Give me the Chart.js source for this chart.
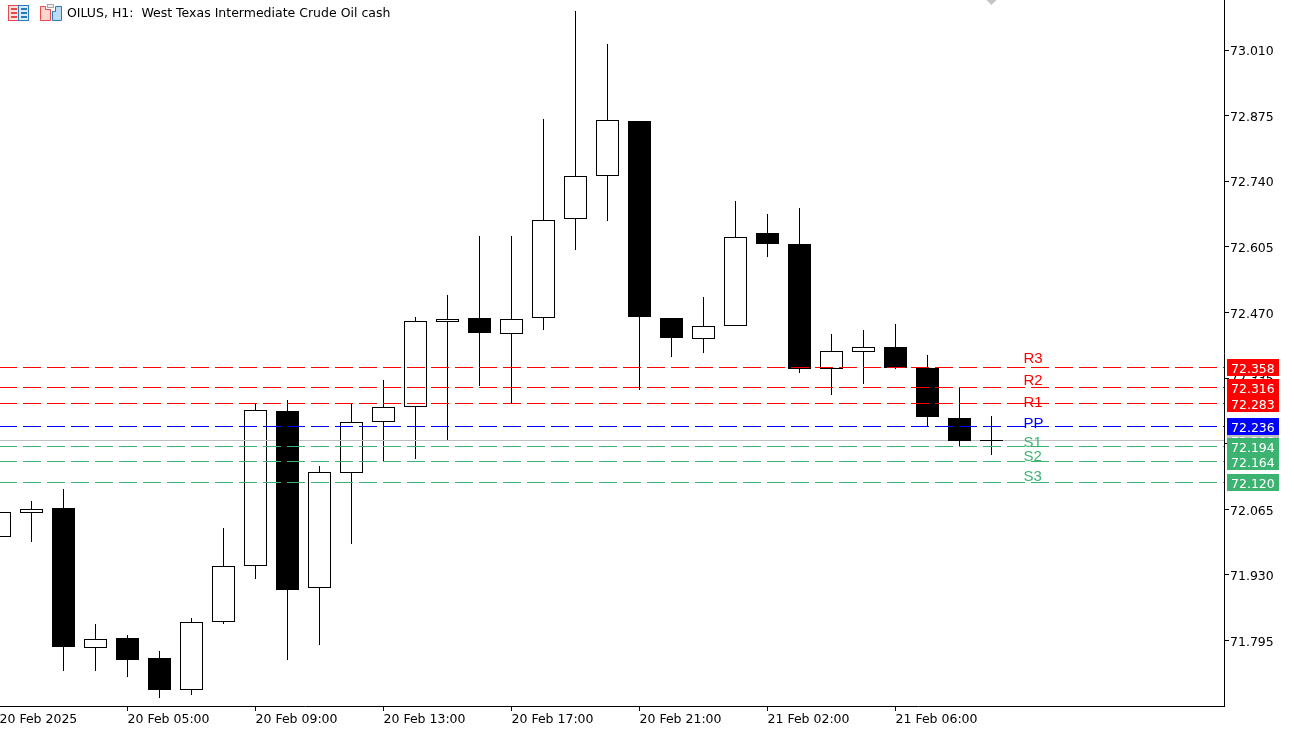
<!DOCTYPE html>
<html><head><meta charset="utf-8">
<style>html,body{margin:0;padding:0;background:#fff;overflow:hidden}
#wrap{position:absolute;left:-1px;top:0;width:1295px;height:733px}</style>
<script src="https://cdn.jsdelivr.net/npm/chart.js@4"></script>
</head><body><div id="wrap"><canvas id="c"></canvas></div>
<script>
const titleText = 'OILUS, H1:  West Texas Intermediate Crude Oil cash';
const opens  = [72.008,72.057,72.067,71.780,71.800,71.759,71.694,71.833,71.948,72.267,71.903,72.140,72.245,72.275,72.450,72.459,72.426,72.459,72.662,72.751,72.863,72.459,72.415,72.442,72.634,72.611,72.354,72.389,72.399,72.356,72.253,72.208];
const highs  = [72.059,72.082,72.107,71.829,71.806,71.773,71.841,72.027,72.284,72.290,72.154,72.282,72.331,72.461,72.506,72.627,72.627,72.868,73.090,73.022,72.863,72.459,72.502,72.699,72.673,72.685,72.426,72.434,72.446,72.382,72.317,72.257];
const lows   = [72.008,71.998,71.732,71.732,71.720,71.677,71.683,71.829,71.922,71.755,71.786,71.994,72.164,72.168,72.206,72.319,72.282,72.434,72.599,72.658,72.310,72.378,72.387,72.442,72.584,72.345,72.300,72.323,72.354,72.234,72.193,72.177];
const closes = [72.059,72.066,71.782,71.798,71.755,71.693,71.833,71.948,72.270,71.899,72.142,72.245,72.275,72.452,72.456,72.428,72.456,72.660,72.751,72.866,72.461,72.417,72.442,72.625,72.611,72.354,72.391,72.399,72.356,72.255,72.206,72.207];
const levelNames  = ['R3','R2','R1','PP','S1','S2','S3'];
const levelValues = [72.358,72.316,72.283,72.236,72.194,72.164,72.120];
const levelLabelPrices = [72.366,72.321,72.275,72.232,72.193,72.164,72.123];
const levelColors = ['#ff0000','#ff0000','#ff0000','#0000ff','#3cb371','#3cb371','#3cb371'];
const currentPrice = 72.208;
const priceTicks = [73.010,72.875,72.740,72.605,72.470,72.335,72.200,72.065,71.930,71.795];
const timeTickIndex = [0,4,8,12,16,20,24,28];
const timeTickLabels = ['20 Feb 2025','20 Feb 05:00','20 Feb 09:00','20 Feb 13:00','20 Feb 17:00','20 Feb 21:00','21 Feb 02:00','21 Feb 06:00'];
const levelLabelIndex = 32;
const markerIndex = 31;

const xMin = -0.015625, xMax = 38.265625, yMin = 71.6602, yMax = 73.1129;
const uiFont = '"DejaVu Sans"';
const uiSize = 12.5;
const ids = opens.map((_, i) => i);
const isBull = i => closes[i] >= opens[i];
const span = a => [xMin, xMax].map(x => ({x, y: a}));
const row = y => Math.floor(y + 0.3);

const datasets = [
  {type:'bar', label:'wicks', order:6, grouped:false, inflateAmount:0, barThickness:1, backgroundColor:'#000', borderWidth:0,
   data: ids.map(i => ({x:i, y:[lows[i], highs[i]]}))},
  {type:'bar', label:'up', order:5, grouped:false, inflateAmount:0, barThickness:23, backgroundColor:'#fff', borderColor:'#000', borderWidth:1, borderSkipped:false,
   data: ids.filter(isBull).map(i => ({x:i, y:[opens[i], closes[i]]}))},
  {type:'line', label:'price', order:4, borderColor:'#c0c0c0', borderWidth:1, pointRadius:0, data: span(currentPrice)},
  {type:'bar', label:'down', order:3, grouped:false, inflateAmount:0, barThickness:23, backgroundColor:'#000', borderColor:'#000', borderWidth:1, borderSkipped:false,
   data: ids.filter(i => !isBull(i)).map(i => ({x:i, y:[closes[i], opens[i]]}))},
  ...levelValues.map((v, k) => ({type:'line', label:levelNames[k], order:2, borderColor:levelColors[k], borderWidth:1, borderDash:[18,6], pointRadius:0, data: span(v)})),
  {type:'line', label:'marker', order:1, showLine:false, pointStyle:'rectRot', pointRadius:5, pointBackgroundColor:'#c4c4c4', pointBorderWidth:0, data:[{x:markerIndex, y:yMax}]}
];

const snap = {
  id:'snap',
  beforeDatasetDraw(chart, args) {
    const m = args.meta;
    if (m.type === 'bar') m.data.forEach(e => {
      e.y = Math.round(e.y); e.base = Math.round(e.base);
      if (e.base - e.y < 1) e.base = e.y + 1;
    });
    else if (m.data.length === 2) m.data.forEach(p => { p.y = row(p.y) + 0.5; });
  }
};

function tag(ctx, y, text, color) {
  ctx.fillStyle = color;
  ctx.fillRect(1228, row(y) - 8, 52, 17);
  ctx.fillStyle = '#fff';
  ctx.textAlign = 'left'; ctx.textBaseline = 'middle';
  ctx.fillText(text, 1232, row(y) + 3);
}
function icons(ctx) {
  ctx.save(); ctx.translate(1, 0);
  ctx.lineWidth = 1;
  ctx.fillStyle = '#fde3de'; ctx.fillRect(8,5,11,16);
  ctx.fillStyle = '#d8ebf8'; ctx.fillRect(19,5,10,16);
  ctx.strokeStyle = '#e8484a'; ctx.strokeRect(8.5,5.5,10,15);
  ctx.strokeStyle = '#2a7ab8'; ctx.strokeRect(18.5,5.5,10,15);
  ctx.fillStyle = '#e8484a'; [8,12,16].forEach(y => ctx.fillRect(11,y,6,2));
  ctx.fillStyle = '#2a7ab8'; [8,12,16].forEach(y => ctx.fillRect(21,y,6,2));
  ctx.fillStyle = '#fdd5cd'; ctx.strokeStyle = '#e8484a';
  ctx.beginPath(); ctx.moveTo(40.5,6.5); ctx.lineTo(45.5,6.5); ctx.lineTo(45.5,9.5); ctx.lineTo(50.5,9.5); ctx.lineTo(50.5,20.5); ctx.lineTo(40.5,20.5); ctx.closePath(); ctx.fill(); ctx.stroke();
  ctx.fillStyle = '#bcdcf5'; ctx.strokeStyle = '#2a7ab8';
  ctx.beginPath(); ctx.moveTo(55.5,6.5); ctx.lineTo(61.5,6.5); ctx.lineTo(61.5,20.5); ctx.lineTo(52.5,20.5); ctx.lineTo(52.5,11.5); ctx.lineTo(55.5,11.5); ctx.closePath(); ctx.fill(); ctx.stroke();
  ctx.fillStyle = '#eee'; ctx.strokeStyle = '#a8a8a8'; ctx.fillRect(47,4,7,4); ctx.strokeRect(47.5,4.5,6,3);
  ctx.restore();
}
const overlay = {
  id:'overlay',
  afterDraw(chart) {
    const {ctx, scales:{x, y}} = chart;
    ctx.save();
    ctx.font = uiSize + 'px ' + uiFont;
    ctx.textAlign = 'left'; ctx.textBaseline = 'alphabetic';
    ctx.fillStyle = '#000';
    ctx.fillText(titleText, 68, 17);
    icons(ctx);
    levelNames.forEach((n, k) => {
      ctx.font = '15px "Liberation Sans"'; ctx.fillStyle = levelColors[k];
      ctx.textAlign = 'left'; ctx.textBaseline = 'alphabetic';
      ctx.fillText(n, x.getPixelForValue(levelLabelIndex), y.getPixelForValue(levelLabelPrices[k]));
    });
    ctx.font = uiSize + 'px ' + uiFont;
    tag(ctx, y.getPixelForValue(currentPrice), currentPrice.toFixed(3), '#c0c0c0');
    levelValues.forEach((v, k) => tag(ctx, y.getPixelForValue(v), v.toFixed(3), levelColors[k]));
    ctx.restore();
  }
};

new Chart(document.getElementById('c'), {
  data:{datasets},
  plugins:[snap, overlay],
  options:{
    responsive:true, maintainAspectRatio:false, animation:false,
    layout:{padding:0, autoPadding:false},
    plugins:{legend:{display:false}, tooltip:{enabled:false}, title:{display:false}},
    scales:{
      x:{type:'linear', position:'bottom', offset:false, min:xMin, max:xMax,
         grid:{offset:false, drawOnChartArea:false, drawTicks:true, tickLength:5, color:'#000', tickColor:'#000'},
         border:{display:true, color:'#000', width:1},
         afterBuildTicks(s){ s.ticks = timeTickIndex.map(value => ({value})); },
         afterFit(s){ s.height = 27; s.paddingLeft = 0; s.paddingRight = 0; },
         ticks:{autoSkip:false, maxRotation:0, minRotation:0, align:'start', padding:1, color:'#000', font:{family:uiFont, size:uiSize},
                callback:(v, i) => timeTickLabels[i]}},
      y:{type:'linear', position:'right', min:yMin, max:yMax,
         grid:{drawOnChartArea:false, drawTicks:true, tickLength:5, color:'#000', tickColor:'#000'},
         border:{display:true, color:'#000', width:1},
         afterBuildTicks(s){ s.ticks = priceTicks.map(value => ({value})); },
         afterFit(s){ s.width = 70; s.paddingTop = 0; s.paddingBottom = 0; },
         ticks:{autoSkip:false, padding:1, labelOffset:2, color:'#000', font:{family:uiFont, size:uiSize},
                callback:v => v.toFixed(3)}}
    }
  }
});
</script></body></html>
